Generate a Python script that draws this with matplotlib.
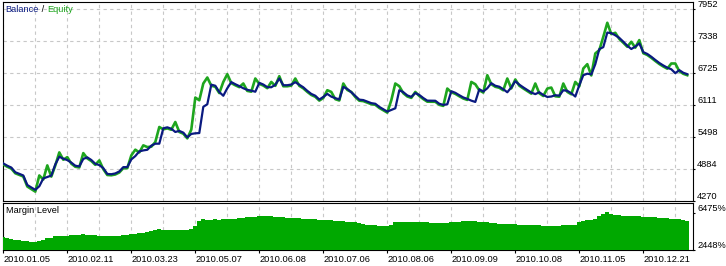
import matplotlib
matplotlib.use("Agg")
import matplotlib.pyplot as plt
import numpy as np

# balance / equity / margin level sampled at equal trade-index steps
balance = [
    4991, 4947, 4912, 4822, 4791, 4760, 4578, 4530, 4485, 4553,
    4703, 4730, 4758, 4972, 5120, 5082, 5055, 5007, 4947, 4934,
    5078, 5107, 5057, 4984, 4959, 4901, 4789, 4784, 4799, 4837,
    4920, 4920, 5068, 5132, 5222, 5241, 5253, 5332, 5370, 5370,
    5665, 5684, 5657, 5595, 5615, 5582, 5492, 5557, 5569, 5574,
    6078, 6126, 6502, 6482, 6361, 6290, 6434, 6552, 6511, 6475,
    6434, 6403, 6388, 6367, 6538, 6505, 6455, 6453, 6500, 6621,
    6492, 6492, 6505, 6550, 6500, 6452, 6384, 6325, 6290, 6217,
    6267, 6325, 6273, 6244, 6219, 6459, 6421, 6357, 6286, 6215,
    6207, 6178, 6148, 6136, 6076, 6030, 5986, 6017, 6049, 6396,
    6359, 6296, 6269, 6342, 6305, 6246, 6196, 6196, 6194, 6136,
    6115, 6126, 6377, 6346, 6300, 6257, 6230, 6196, 6171, 6415,
    6371, 6434, 6531, 6482, 6463, 6415, 6357, 6450, 6569, 6503,
    6450, 6400, 6351, 6321, 6357, 6305, 6267, 6275, 6300, 6292,
    6396, 6384, 6338, 6275, 6492, 6684, 6713, 6700, 6896, 7185,
    7223, 7502, 7492, 7450, 7400, 7327, 7250, 7187, 7233, 7294,
    7127, 7092, 7038, 6977, 6919, 6871, 6829, 6798, 6723, 6781,
    6731, 6704,
]
equity = [
    4971, 4927, 4892, 4802, 4771, 4740, 4548, 4500, 4450, 4760,
    4683, 4953, 4738, 4952, 5203, 5062, 5112, 4987, 4927, 4914,
    5189, 5087, 5037, 4964, 5049, 4881, 4769, 4764, 4779, 4817,
    4900, 4900, 5145, 5255, 5202, 5338, 5305, 5312, 5401, 5690,
    5645, 5664, 5637, 5786, 5595, 5562, 5472, 5640, 6255, 6203,
    6525, 6640, 6482, 6462, 6341, 6555, 6704, 6532, 6491, 6455,
    6525, 6383, 6368, 6621, 6518, 6485, 6435, 6555, 6480, 6665,
    6472, 6472, 6485, 6621, 6480, 6432, 6364, 6305, 6270, 6197,
    6247, 6396, 6363, 6224, 6199, 6525, 6401, 6363, 6266, 6195,
    6187, 6158, 6128, 6116, 6056, 6010, 5966, 6203, 6525, 6473,
    6339, 6276, 6249, 6363, 6285, 6226, 6176, 6176, 6174, 6116,
    6095, 6428, 6357, 6326, 6280, 6237, 6210, 6555, 6511, 6395,
    6351, 6684, 6511, 6462, 6443, 6395, 6621, 6430, 6602, 6483,
    6430, 6380, 6331, 6525, 6337, 6285, 6428, 6447, 6280, 6272,
    6525, 6364, 6318, 6555, 6472, 6813, 6896, 6680, 7102, 7165,
    7421, 7690, 7472, 7498, 7380, 7307, 7230, 7325, 7213, 7358,
    7107, 7072, 7018, 6957, 6899, 6851, 6809, 6909, 6909, 6761,
    6711, 6684,
]
margin_level = [
    3830, 3754, 3645, 3590, 3514, 3460, 3373, 3297, 3318, 3427,
    3580, 3721, 3808, 3928, 3971, 3950, 3971, 4026, 4080, 4102,
    4156, 4102, 4047, 4026, 3993, 3971, 3971, 3950, 3971, 3971,
    4026, 4080, 4167, 4210, 4276, 4330, 4406, 4515, 4646, 4700,
    4678, 4646, 4624, 4624, 4646, 4668, 4678, 4700, 5037, 5603,
    5788, 5766, 5766, 5788, 5766, 5799, 5821, 5854, 5875, 5930,
    5973, 6017, 6060, 6082, 6115, 6147, 6147, 6104, 6060, 6038,
    6006, 5984, 5951, 5930, 5897, 5875, 5843, 5821, 5799, 5766,
    5734, 5690, 5658, 5625, 5582, 5560, 5516, 5494, 5462, 5429,
    5331, 5222, 5168, 5114, 5059, 5059, 5059, 5168, 5494, 5527,
    5516, 5494, 5494, 5494, 5472, 5462, 5451, 5440, 5440, 5429,
    5418, 5440, 5494, 5527, 5549, 5582, 5603, 5625, 5603, 5549,
    5494, 5462, 5408, 5353, 5331, 5309, 5298, 5277, 5255, 5222,
    5190, 5168, 5146, 5135, 5114, 5092, 5081, 5059, 5059, 5092,
    5135, 5168, 5190, 5222, 5494, 5603, 5712, 5766, 5875, 6147,
    6365, 6582, 6365, 6256, 6223, 6191, 6169, 6147, 6147, 6125,
    6093, 6082, 6060, 6017, 5984, 5951, 5908, 5875, 5821, 5788,
    5712, 5636,
]

date_labels = ["2010.01.05", "2010.02.11", "2010.03.23", "2010.05.07",
               "2010.06.08", "2010.07.06", "2010.08.06", "2010.09.09",
               "2010.10.08", "2010.11.05", "2010.12.21"]
equity_ticks = ["4270", "4884", "5498", "6111", "6725", "7338", "7952"]
margin_ticks = ["2448%", "6475%"]

BALANCE_COLOR = "#0a1a80"
EQUITY_COLOR = "#1ea51e"
MARGIN_COLOR = "#00a800"
GRID_COLOR = "#c8c8c8"
FONT = dict(family="Liberation Sans", size=6.7)

W, H = 726, 266
fig = plt.figure(figsize=(W / 100, H / 100), dpi=100)


def px_axes(x0, y0, x1, y1):
    # axes placed by pixel box (top-left origin)
    return fig.add_axes([x0 / W, 1 - y1 / H, (x1 - x0) / W, (y1 - y0) / H])


ax = px_axes(2.5, 2, 693, 201)
ax2 = px_axes(2.5, 203, 693, 250)

x = np.arange(len(balance))
xmax = (693 - 3.3) / 4
for a in (ax, ax2):
    a.set_xlim(-0.2, xmax)
    for s in a.spines.values():
        s.set_linewidth(0.8)
        s.set_color("black")

# --- balance / equity panel
ax.plot(x, equity, color=EQUITY_COLOR, linewidth=1.9, zorder=3)
ax.plot(x, balance, color=BALANCE_COLOR, linewidth=1.6, zorder=4)

ytick_vals = np.linspace(4270, 7952, len(equity_ticks))
ax.set_ylim(4270, 8089)
ax.set_yticks(ytick_vals)
ax.set_yticklabels(equity_ticks, **FONT)
ax.yaxis.tick_right()
ax.tick_params(axis="y", length=1.5, width=0.8, pad=1.5)
for lab in ax.get_yticklabels():
    lab.set_va("bottom")
ax.set_xticks(np.arange(0, len(balance), 8))
ax.tick_params(axis="x", length=0, labelbottom=False)
ax.grid(True, color=GRID_COLOR, linestyle=(0, (3, 3)), linewidth=0.8)
ax.set_axisbelow(True)

t1 = ax.annotate("Balance", xy=(0, 1), xycoords="axes fraction", xytext=(3, -3),
                 textcoords="offset pixels", va="top", ha="left",
                 color=BALANCE_COLOR, **FONT)
t2 = ax.annotate(" / ", xy=(1, 0), xycoords=t1, va="bottom", ha="left",
                 color="black", **FONT)
ax.annotate("Equity", xy=(1, 0), xycoords=t2, va="bottom", ha="left",
            color=EQUITY_COLOR, **FONT)

# --- margin level panel
ax2.bar(x, np.array(margin_level) - 2000, bottom=2000, width=1.0,
        color=MARGIN_COLOR, linewidth=0, zorder=3)
ax2.set_ylim(2448, 7562)
ax2.set_yticks([2448, 6475])
ax2.set_yticklabels(margin_ticks, **FONT)
ax2.yaxis.tick_right()
ax2.tick_params(axis="y", length=1.5, width=0.8, pad=1.5)
for lab in ax2.get_yticklabels():
    lab.set_va("bottom")

ax2.set_xticks(np.arange(0, len(balance), 16))
ax2.set_xticklabels(date_labels, **FONT)
ax2.set_xticks(np.arange(0, len(balance), 8), minor=True)
ax2.tick_params(axis="x", which="major", length=2.5, width=0.8, pad=1)
ax2.tick_params(axis="x", which="minor", length=0)
for lab in ax2.get_xticklabels():
    lab.set_ha("left")
ax2.grid(True, axis="x", which="both", color=GRID_COLOR,
         linestyle=(0, (3, 3)), linewidth=0.8)
ax2.set_axisbelow(True)
ax2.annotate("Margin Level", xy=(0, 1), xycoords="axes fraction", xytext=(3, -3),
             textcoords="offset pixels", va="top", ha="left", color="black", **FONT)

fig.savefig("out.png", dpi=100)
